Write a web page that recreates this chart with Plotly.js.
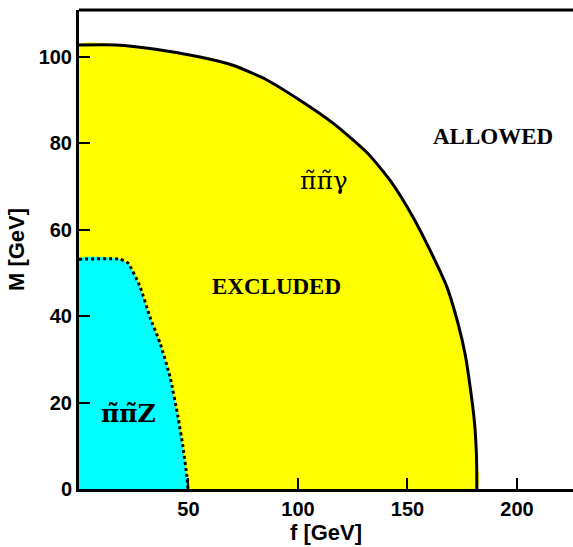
<!DOCTYPE html>
<html>
<head>
<meta charset="utf-8">
<script src="https://cdn.plot.ly/plotly-3.0.1.min.js"></script>
<style>html,body{margin:0;padding:0;background:#fff;}#chart{width:573px;height:547px;}</style>
</head>
<body>
<div id="chart"></div>
<script>
// pi pi gamma exclusion boundary (f [GeV], M [GeV])
const gammaF = [0, 17, 35, 55.3, 70.3, 85.8, 100.9, 116, 131.5, 142, 152.5, 160.3, 168, 173, 176.5, 178.8, 180.6, 181.5, 181.7];
const gammaM = [102.8, 102.8, 101.8, 100, 98.1, 94.7, 90, 84.7, 77.9, 71.5, 63, 55.3, 46.8, 38.5, 30.8, 23, 15.5, 8, 0];
// pi pi Z exclusion boundary
const zF = [0, 18.7, 22.4, 27.9, 32.4, 37, 41.6, 45.2, 47.5, 49.3, 49.8];
const zM = [53.2, 53.2, 52.3, 46.8, 39.8, 33.8, 25.9, 16.7, 9.7, 2.8, 0];

const xTicks = [50, 100, 150, 200];
const yTicks = [0, 20, 40, 60, 80, 100];

const labels = [
  {text: 'π̃π̃γ', f: 112, m: 71.5, font: 'DejaVu Serif', size: 25, bold: false},
  {text: 'EXCLUDED', f: 90, m: 47, font: 'Liberation Serif', size: 23, bold: true},
  {text: 'ALLOWED', f: 189, m: 81.5, font: 'Liberation Serif', size: 23, bold: true},
  {text: 'π̃π̃Z', f: 22.5, m: 17.5, font: 'DejaVu Serif', size: 25, bold: true}
];

const closeF = (f) => [0].concat(f, [0]);
const closeM = (m) => [0].concat(m, [0]);

const traces = [
  {x: closeF(gammaF), y: closeM(gammaM), mode: 'lines', fill: 'toself', fillcolor: '#ffff00',
   line: {width: 0, color: 'rgba(0,0,0,0)', shape: 'spline', smoothing: 0.6}, hoverinfo: 'skip', showlegend: false},
  {x: gammaF, y: gammaM, mode: 'lines', line: {color: '#000', width: 3, shape: 'spline', smoothing: 0.6}, showlegend: false},
  {x: closeF(zF), y: closeM(zM), mode: 'lines', fill: 'toself', fillcolor: '#00ffff',
   line: {width: 0, color: 'rgba(0,0,0,0)', shape: 'spline', smoothing: 0.5}, hoverinfo: 'skip', showlegend: false},
  {x: zF, y: zM, mode: 'lines', line: {color: '#000', width: 3, dash: 'dot', shape: 'spline', smoothing: 0.5}, showlegend: false}
];

const annotations = labels.map(l => ({
  x: l.f, y: l.m, xref: 'x', yref: 'y', showarrow: false,
  text: l.bold ? '<b>' + l.text + '</b>' : l.text,
  font: {family: l.font, size: l.size, color: '#000'}
}));

const layout = {
  width: 573, height: 547,
  margin: {l: 79, r: 0, t: 10, b: 58},
  paper_bgcolor: '#fff', plot_bgcolor: '#fff',
  font: {family: 'Liberation Sans', color: '#000'},
  xaxis: {
    range: [0, 225.6], tickvals: xTicks, ticktext: xTicks.map(v => '<b>' + v + '</b>'),
    ticks: 'inside', ticklen: 11, tickwidth: 2, tickcolor: '#000',
    showline: true, linewidth: 3, linecolor: '#000',
    showgrid: false, zeroline: false,
    tickfont: {family: 'Liberation Sans', size: 20},
    title: {text: '<b>f [GeV]</b>', font: {family: 'Liberation Sans', size: 22}, standoff: 2}
  },
  yaxis: {
    range: [0, 110.9], tickvals: yTicks, ticktext: yTicks.map(v => '<b>' + v + '</b>'),
    ticks: 'inside', ticklen: 11, tickwidth: 2, tickcolor: '#000',
    showline: true, linewidth: 3, linecolor: '#000',
    showgrid: false, zeroline: false,
    tickfont: {family: 'Liberation Sans', size: 20},
    title: {text: '<b>M [GeV]</b>', font: {family: 'Liberation Sans', size: 22}, standoff: 8}
  },
  shapes: [
    {type: 'line', xref: 'paper', yref: 'paper', x0: 0, x1: 1, y0: 1, y1: 1, line: {color: '#000', width: 3}}
  ],
  annotations: annotations
};

Plotly.newPlot('chart', traces, layout, {displayModeBar: false, staticPlot: true});
</script>
</body>
</html>
